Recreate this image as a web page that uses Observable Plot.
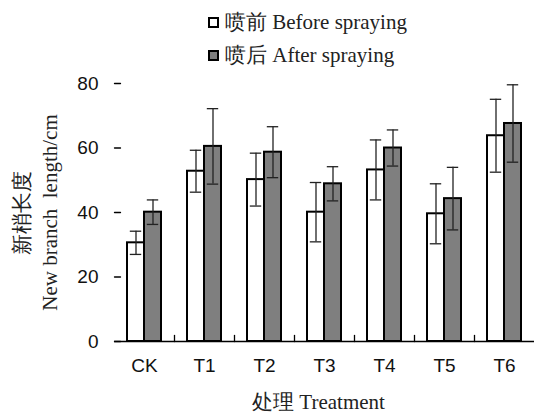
<!DOCTYPE html>
<html>
<head>
<meta charset="utf-8">
<script src="https://cdn.jsdelivr.net/npm/d3@7"></script>
<script src="https://cdn.jsdelivr.net/npm/@observablehq/plot@0.6"></script>
<style>
  html, body { margin: 0; padding: 0; background: #fff; }
  #wrap { position: relative; width: 534px; height: 416px; }
  #legend { position: relative; width: 534px; height: 70px; font-family: "Liberation Serif", "Times New Roman", serif; font-size: 21px; color: #222; }
  .row { position: absolute; left: 208px; height: 24px; display: flex; align-items: center; white-space: nowrap; }
  .sw { width: 7px; height: 7px; border: 2px solid #000; margin-right: 6px; }
  #chart svg { display: block; }
</style>
</head>
<body>
<div id="wrap">
  <div id="legend"></div>
  <div id="chart"></div>
</div>
<script>
const categories = ["CK", "T1", "T2", "T3", "T4", "T5", "T6"];
const seriesKeys = ["before", "after"];
const seriesLabels = ["喷前 Before spraying", "喷后 After spraying"];
const seriesColors = ["#ffffff", "#7f7f7f"];
const beforeValues = [30.6, 52.8, 50.2, 40.1, 53.2, 39.6, 63.8];
const beforeErrors = [3.6, 6.5, 8.2, 9.2, 9.3, 9.3, 11.3];
const afterValues = [40.1, 60.5, 58.7, 48.9, 60.0, 44.3, 67.6];
const afterErrors = [3.8, 11.7, 7.9, 5.3, 5.6, 9.7, 12.0];
const yTicks = [0, 20, 40, 60, 80];
const xTitle = "处理 Treatment";
const yTitle1 = "新梢长度";
const yTitle2 = "New branch  length/cm";

const data = [];
categories.forEach((c, i) => {
  data.push({cat: c, series: "before", value: beforeValues[i], err: beforeErrors[i]});
  data.push({cat: c, series: "after", value: afterValues[i], err: afterErrors[i]});
});

// legend
const legend = document.getElementById("legend");
seriesLabels.forEach((lab, i) => {
  const row = document.createElement("div");
  row.className = "row";
  row.style.top = (i === 0 ? 10 : 43) + "px";
  const sw = document.createElement("div");
  sw.className = "sw";
  sw.style.background = seriesColors[i];
  const t = document.createElement("span");
  t.textContent = lab;
  row.appendChild(sw);
  row.appendChild(t);
  legend.appendChild(row);
});

const sans = "'Liberation Sans', Arial, sans-serif";
const serif = "'Liberation Serif', 'Times New Roman', serif";
const lineShape = {draw(context, l) { context.moveTo(0, 0); context.lineTo(0, -l); }};

const chart = Plot.plot({
  width: 534,
  height: 346,
  marginLeft: 113,
  marginRight: 0,
  marginTop: 13,
  marginBottom: 75,
  fx: {domain: categories, padding: 0, label: null},
  x: {domain: seriesKeys, paddingInner: 0, paddingOuter: 0.72, axis: null},
  y: {domain: [0, 80], label: null},
  color: {domain: seriesKeys, range: seriesColors},
  style: {background: "#fff"},
  marks: [
    Plot.barY(data, {fx: "cat", x: "series", y: "value", fill: "series", stroke: "#000", strokeWidth: 2}),
    Plot.ruleX(data, {fx: "cat", x: "series", y1: d => d.value - d.err, y2: d => d.value + d.err, stroke: "#222", strokeWidth: 1.3}),
    Plot.tickY(data, {fx: "cat", x: "series", y: d => d.value + d.err, stroke: "#222", strokeWidth: 1.3, inset: 2.8}),
    Plot.tickY(data, {fx: "cat", x: "series", y: d => d.value - d.err, stroke: "#222", strokeWidth: 1.3, inset: 2.8}),
    Plot.ruleY([0], {stroke: "#000", strokeWidth: 1.3}),
    Plot.vector(categories.slice(1), {fx: d => d, frameAnchor: "bottom-left", length: 6, rotate: 0, anchor: "start", shape: lineShape, stroke: "#000", strokeWidth: 1.3}),
    Plot.vector(yTicks, {fx: () => "CK", y: d => d, frameAnchor: "left", length: 6, rotate: 90, anchor: "start", shape: lineShape, stroke: "#000", strokeWidth: 1.3}),
    Plot.axisY({ticks: yTicks, tickSize: 0, tickPadding: 16, fontSize: 19, fontFamily: sans, fill: "#111", label: null, line: true, stroke: "#000", strokeWidth: 1.3}),
    Plot.axisFx({anchor: "bottom", tickSize: 0, tickPadding: 17, fontSize: 19, fontFamily: sans, fill: "#111", label: null}),
    Plot.text([yTitle1], {fx: () => "CK", frameAnchor: "left", textAnchor: "middle", rotate: -90, dx: -92, fontSize: 21, fontFamily: serif, fill: "#222", text: d => d}),
    Plot.text([yTitle2], {fx: () => "CK", frameAnchor: "left", textAnchor: "middle", rotate: -90, dx: -64, fontSize: 21, fontFamily: serif, fill: "#222", text: d => d}),
    Plot.text([xTitle], {fx: () => "T3", frameAnchor: "bottom", textAnchor: "middle", dy: 67, dx: -6, fontSize: 21, fontFamily: serif, fill: "#222", text: d => d})
  ]
});
document.getElementById("chart").appendChild(chart);
</script>
</body>
</html>
